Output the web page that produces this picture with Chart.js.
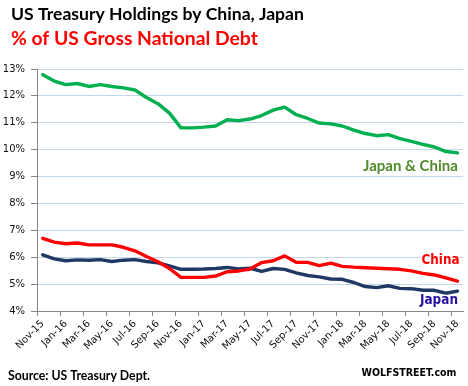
<!DOCTYPE html>
<html>
<head>
<meta charset="utf-8">
<script src="https://cdn.jsdelivr.net/npm/chart.js@4.4.0/dist/chart.umd.min.js"></script>
<style>
  html, body { margin: 0; padding: 0; background: #fff; }
  #wrap { width: 468px; height: 386px; }
</style>
</head>
<body>
<div id="wrap"><canvas id="c" width="468" height="386"></canvas></div>
<script>
// ---- Data ----
const months = [
  'Nov-15','Dec-15','Jan-16','Feb-16','Mar-16','Apr-16','May-16','Jun-16','Jul-16','Aug-16',
  'Sep-16','Oct-16','Nov-16','Dec-16','Jan-17','Feb-17','Mar-17','Apr-17','May-17','Jun-17',
  'Jul-17','Aug-17','Sep-17','Oct-17','Nov-17','Dec-17','Jan-18','Feb-18','Mar-18','Apr-18',
  'May-18','Jun-18','Jul-18','Aug-18','Sep-18','Oct-18','Nov-18'
];
const japanChina = [
  12.79, 12.55, 12.42, 12.46, 12.35, 12.42, 12.35, 12.30, 12.22, 11.94,
  11.71, 11.36, 10.81, 10.81, 10.84, 10.88, 11.11, 11.08, 11.14, 11.27,
  11.47, 11.58, 11.30, 11.16, 10.99, 10.96, 10.88, 10.73, 10.60, 10.52,
  10.56, 10.41, 10.31, 10.20, 10.10, 9.93, 9.88
];
const china = [
  6.70, 6.56, 6.50, 6.53, 6.46, 6.46, 6.46, 6.37, 6.24, 6.03,
  5.83, 5.58, 5.25, 5.25, 5.25, 5.30, 5.46, 5.49, 5.56, 5.80,
  5.87, 6.05, 5.81, 5.81, 5.69, 5.78, 5.66, 5.63, 5.61, 5.59,
  5.57, 5.55, 5.49, 5.40, 5.34, 5.23, 5.11
];
const japan = [
  6.09, 5.94, 5.87, 5.90, 5.89, 5.91, 5.84, 5.89, 5.91, 5.84,
  5.79, 5.68, 5.55, 5.55, 5.56, 5.58, 5.62, 5.56, 5.59, 5.47,
  5.58, 5.55, 5.42, 5.32, 5.27, 5.19, 5.18, 5.06, 4.91, 4.87,
  4.94, 4.84, 4.83, 4.77, 4.77, 4.66, 4.74
];
const yMin = 4, yMax = 13, yStep = 1;

const titleText = 'US Treasury Holdings by China, Japan';
const subtitleText = '% of US Gross National Debt';
const sourceText = 'Source: US Treasury Dept.';
const brandText = 'WOLFSTREET.com';
const labelJC = 'Japan & China';
const labelChina = 'China';
const labelJapan = 'Japan';

// ---- helpers ----
function fitFont(ctx, text, weight, family, width) {
  ctx.font = weight + ' 100px ' + family;
  const w = ctx.measureText(text).width;
  return weight + ' ' + (100 * width / w).toFixed(2) + 'px ' + family;
}
function drawText(ctx, text, x, y, width, weight, family, color, halo) {
  ctx.save();
  ctx.font = fitFont(ctx, text, weight, family, width);
  ctx.textBaseline = 'alphabetic';
  ctx.textAlign = 'left';
  if (halo) {
    ctx.strokeStyle = '#ffffff';
    ctx.lineWidth = 2.5;
    ctx.lineJoin = 'round';
    ctx.strokeText(text, x, y);
  }
  ctx.fillStyle = color;
  ctx.fillText(text, x, y);
  ctx.restore();
}

const textPlugin = {
  id: 'texts',
  afterDraw(chart) {
    const ctx = chart.ctx;
    drawText(ctx, titleText, 11, 20, 293, 'bold', 'Lato', '#000000');
    drawText(ctx, subtitleText, 11, 44.5, 247, 'bold', 'Lato', '#ff0000');
    drawText(ctx, labelJC, 363, 171, 95, 'bold', 'Lato', '#4f8a2b');
    drawText(ctx, labelChina, 421.5, 264, 38, 'bold', '"DejaVu Sans Condensed"', '#ff0000', true);
    drawText(ctx, labelJapan, 420, 304, 38, 'bold', '"DejaVu Sans Condensed"', '#2a10a0', true);
    drawText(ctx, sourceText, 8, 380, 142, 'bold', 'Lato', '#000000');
    drawText(ctx, brandText, 361.5, 375.5, 95, 'bold', '"DejaVu Sans Condensed"', '#000000');
  }
};

const tickFont = { family: 'DejaVu Sans', size: 10 };

new Chart(document.getElementById('c'), {
  type: 'line',
  data: {
    labels: months,
    datasets: [
      { label: 'Japan & China', data: japanChina, borderColor: '#00b050', borderWidth: 3.4 },
      { label: 'China', data: china, borderColor: '#ff0000', borderWidth: 3.4 },
      { label: 'Japan', data: japan, borderColor: '#1f3864', borderWidth: 3.4 }
    ]
  },
  options: {
    responsive: false,
    animation: false,
    devicePixelRatio: 1,
    layout: { padding: { left: 0, right: 3, top: 69, bottom: 0 } },
    elements: {
      point: { radius: 0 },
      line: { tension: 0, borderJoinStyle: 'round', borderCapStyle: 'round', fill: false }
    },
    plugins: {
      legend: { display: false },
      title: { display: false },
      tooltip: { enabled: false }
    },
    scales: {
      x: {
        type: 'category',
        offset: true,
        afterFit(scale) { scale.height = 75; },
        border: { display: true, color: '#868686', width: 1 },
        grid: {
          display: true,
          offset: true,
          drawOnChartArea: false,
          drawTicks: true,
          tickLength: 5,
          color: (c) => (c.index !== undefined && c.index % 2 === 0) ? '#868686' : 'rgba(0,0,0,0)'
        },
        ticks: {
          autoSkip: false,
          maxRotation: 45,
          minRotation: 45,
          padding: 2,
          color: '#111111',
          font: tickFont,
          callback: (v, i) => (i % 2 === 0 ? months[i] : '')
        }
      },
      y: {
        min: yMin,
        max: yMax,
        afterFit(scale) { scale.width = 37; },
        border: { display: true, color: '#868686', width: 1 },
        grid: {
          color: '#c5d5ea',
          lineWidth: 1,
          tickColor: '#868686',
          tickLength: 6
        },
        ticks: {
          stepSize: yStep,
          padding: 6,
          color: '#111111',
          font: tickFont,
          callback: (v) => v + '%'
        }
      }
    }
  },
  plugins: [textPlugin]
});
</script>
</body>
</html>
